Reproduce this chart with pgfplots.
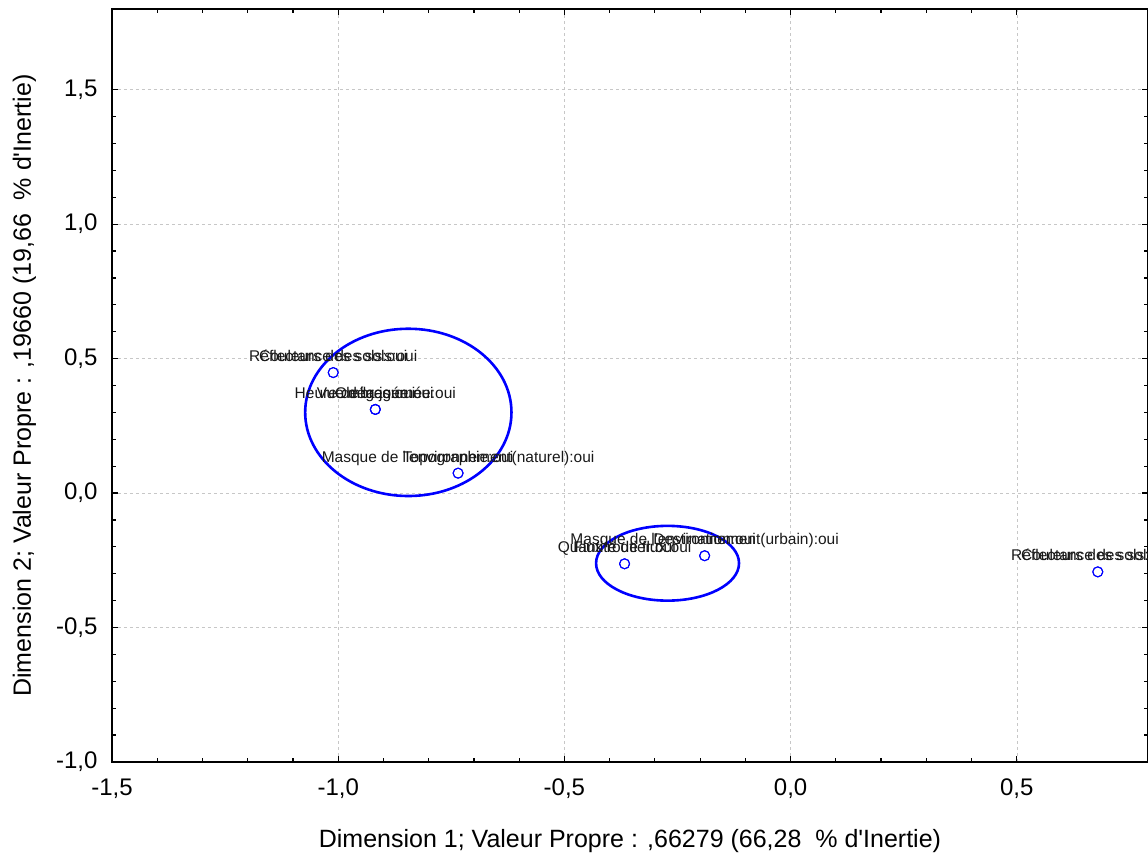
\documentclass[border=0pt]{standalone}
\usepackage{pgfplots}
\pgfplotsset{compat=1.18}
\usepackage{fontspec}
\setmainfont{Liberation Sans}[Ligatures=TeXOff]
\usetikzlibrary{calc}
\begin{document}
\begin{tikzpicture}
\begin{axis}[
  scale only axis, width=1036pt, height=753pt,
  xmin=-1.5, xmax=0.79, ymin=-1.0, ymax=1.8,
  xtick={-1.5,-1,-0.5,0,0.5}, ytick={-1,-0.5,0,0.5,1,1.5},
  minor x tick num=4, minor y tick num=4,
  tick align=inside, major tick length=6pt, minor tick length=4pt,
  tick style={black, line width=1.2pt},
  axis line style={line width=2pt},
  grid=major, major grid style={dashed, black!22, line width=0.6pt},
  /pgf/number format/.cd, use comma, fixed, fixed zerofill, precision=1, assume math mode=true,
  /pgfplots/.cd,
  tick label style={font=\fontsize{24}{26}\selectfont},
  xticklabel style={yshift=-13pt},
  yticklabel style={xshift=-11pt},
  label style={font=\fontsize{25}{27}\selectfont},
  xlabel={Dimension 1; Valeur Propre : ,66279 (66,28\ \ \% d'Inertie)},
  ylabel={Dimension 2; Valeur Propre : ,19660 (19,66\ \ \% d'Inertie)},
  xlabel style={at={(axis description cs:0.5,0)}, anchor=base, yshift=-86pt},
  ylabel style={at={(axis description cs:0,0.5)}, anchor=base, yshift=81pt},
  point meta=explicit symbolic,
  nodes near coords,
  nodes near coords style={anchor=base, yshift=11pt, inner sep=0pt, text=black!90, font=\fontsize{15.5}{17}\selectfont},
  clip=false,
]
\addplot[only marks, mark=o, mark size=5pt, blue, mark options={line width=1pt}] coordinates {
  (-1.011,0.448) [Réflectance des sols:oui]
  (-1.011,0.448) [Couleurs des sols:oui]
  (-0.918,0.311) [Heure de la journée:oui]
  (-0.918,0.311) [Vue dégagée:oui]
  (-0.918,0.311) [Ombres:oui]
  (-0.735,0.074) [Masque de l'environnement(naturel):oui]
  (-0.735,0.074) [Topographie:oui]
  (-0.367,-0.263) [Quantité de flux:oui]
  (-0.367,-0.263) [Flux routier:oui]
  (-0.190,-0.233) [Masque de l'environnement(urbain):oui]
  (-0.190,-0.233) [Destination:oui]
  (0.679,-0.293) [Réflectance des sols:non]
  (0.679,-0.293) [Couleurs des sols:non]
};
\draw[blue, line width=2.6pt] (axis cs:-0.845,0.30) ellipse [x radius=0.228, y radius=0.311];
\draw[blue, line width=2.6pt] (axis cs:-0.272,-0.261) ellipse [x radius=0.158, y radius=0.139];
\end{axis}
\pgfresetboundingbox
\path ($(current axis.south west)+(-112pt,-91pt)$) rectangle ($(current axis.north east)+(0pt,9pt)$);
\end{tikzpicture}
\end{document}
